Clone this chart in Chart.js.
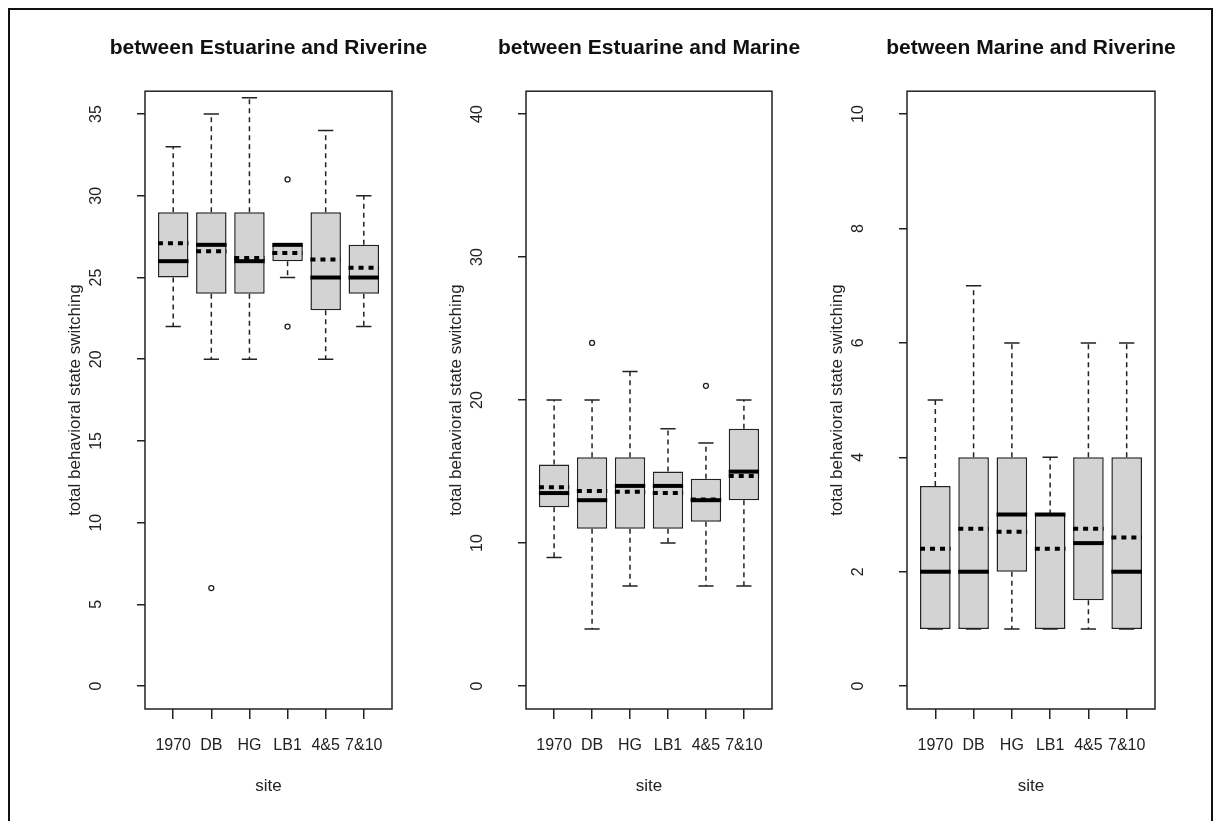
<!DOCTYPE html>
<html>
<head>
<meta charset="utf-8">
<script src="https://cdn.jsdelivr.net/npm/chart.js@4.4.1/dist/chart.umd.min.js"></script>
<style>
  html, body { margin: 0; padding: 0; background: #fff; width: 1221px; height: 821px; overflow: hidden; }
  .frame { position: absolute; left: 8px; top: 8px; width: 1205px; height: 830px; border: 2px solid #111; box-sizing: border-box; }
  canvas { position: absolute; top: 0; }
</style>
</head>
<body>
<div class="frame"></div>
<canvas id="p1"></canvas>
<canvas id="p2"></canvas>
<canvas id="p3"></canvas>
<script>
// Sites shared by all three panels
const categories = ['1970', 'DB', 'HG', 'LB1', '4&5', '7&10'];

// Switching between estuarine and riverine
const erLower  = [22, 20, 20, 25, 20, 22];
const erQ1     = [25, 24, 24, 26, 23, 24];
const erMedian = [26, 27, 26, 27, 25, 25];
const erQ3     = [29, 29, 29, 27, 29, 27];
const erUpper  = [33, 35, 36, 27, 34, 30];
const erMean   = [27.1, 26.6, 26.2, 26.5, 26.1, 25.6];
const erOutSite  = ['DB', 'LB1', 'LB1'];
const erOutValue = [6, 31, 22];
const erTicks  = [0, 5, 10, 15, 20, 25, 30, 35];

// Switching between estuarine and marine
const emLower  = [9, 4, 7, 10, 7, 7];
const emQ1     = [12.5, 11, 11, 11, 11.5, 13];
const emMedian = [13.5, 13, 14, 14, 13, 15];
const emQ3     = [15.5, 16, 16, 15, 14.5, 18];
const emUpper  = [20, 20, 22, 18, 17, 20];
const emMean   = [13.9, 13.65, 13.6, 13.5, 13.05, 14.7];
const emOutSite  = ['DB', '4&5'];
const emOutValue = [24, 21];
const emTicks  = [0, 10, 20, 30, 40];

// Switching between marine and riverine
const mrLower  = [1, 1, 1, 1, 1, 1];
const mrQ1     = [1, 1, 2, 1, 1.5, 1];
const mrMedian = [2, 2, 3, 3, 2.5, 2];
const mrQ3     = [3.5, 4, 4, 3, 4, 4];
const mrUpper  = [5, 7, 6, 4, 6, 6];
const mrMean   = [2.4, 2.75, 2.7, 2.4, 2.75, 2.6];
const mrOutSite  = [];
const mrOutValue = [];
const mrTicks  = [0, 2, 4, 6, 8, 10];

const INK = '#222';
const SANS = '"Liberation Sans", Arial, sans-serif';

// Whiskers, staples, medians and means on top of the floating bars
const boxExtras = {
  id: 'boxExtras',
  afterDatasetsDraw(chart, args, opts) {
    const ctx = chart.ctx, xs = chart.scales.x, ys = chart.scales.y;
    const meta = chart.getDatasetMeta(0);
    ctx.save();
    opts.median.forEach((m, i) => {
      const bar = meta.data[i];
      const cx = xs.getPixelForValue(i + 1);
      const half = bar.width / 2;
      const yQ1 = ys.getPixelForValue(opts.q1[i]);
      const yQ3 = ys.getPixelForValue(opts.q3[i]);
      const yLo = ys.getPixelForValue(opts.lower[i]);
      const yHi = ys.getPixelForValue(opts.upper[i]);
      ctx.strokeStyle = INK;
      ctx.lineWidth = 1.5;
      ctx.lineCap = 'butt';
      // dashed whiskers
      ctx.setLineDash([5, 4]);
      ctx.beginPath();
      if (opts.upper[i] > opts.q3[i]) { ctx.moveTo(cx, yQ3); ctx.lineTo(cx, yHi); }
      if (opts.lower[i] < opts.q1[i]) { ctx.moveTo(cx, yQ1); ctx.lineTo(cx, yLo); }
      ctx.stroke();
      // staples
      ctx.setLineDash([]);
      ctx.beginPath();
      ctx.moveTo(cx - half / 2, yHi); ctx.lineTo(cx + half / 2, yHi);
      ctx.moveTo(cx - half / 2, yLo); ctx.lineTo(cx + half / 2, yLo);
      ctx.stroke();
      // median
      const yMed = ys.getPixelForValue(m);
      ctx.strokeStyle = '#000';
      ctx.lineWidth = 4;
      ctx.beginPath();
      ctx.moveTo(cx - half, yMed); ctx.lineTo(cx + half, yMed);
      ctx.stroke();
      // mean, dotted
      const yMean = ys.getPixelForValue(opts.mean[i]);
      ctx.setLineDash([5, 5]);
      ctx.beginPath();
      ctx.moveTo(cx - half, yMean); ctx.lineTo(cx + half, yMean);
      ctx.stroke();
      ctx.setLineDash([]);
    });
    ctx.restore();
  },
  afterDraw(chart, args, opts) {
    const ctx = chart.ctx, ys = chart.scales.y, a = chart.chartArea;
    ctx.save();
    // plot frame
    ctx.strokeStyle = INK;
    ctx.lineWidth = 1.5;
    ctx.strokeRect(a.left, a.top, a.right - a.left, a.bottom - a.top);
    // y tick labels, parallel to the axis
    ctx.fillStyle = INK;
    ctx.font = '16px ' + SANS;
    ctx.textAlign = 'center';
    ctx.textBaseline = 'middle';
    opts.ticks.forEach(v => {
      const y = ys.getPixelForValue(v);
      ctx.save();
      ctx.translate(a.left - 48, y);
      ctx.rotate(-Math.PI / 2);
      ctx.fillText(String(v), 0, 0);
      ctx.restore();
    });
    ctx.restore();
  }
};

function makePanel(id, plotLeft, plotRight, title, d) {
  const canvas = document.getElementById(id);
  const margin = 100;
  canvas.width = plotRight - plotLeft + 2 * margin;
  canvas.height = 821;
  canvas.style.left = (plotLeft - margin) + 'px';

  const span = d.ticks[d.ticks.length - 1] - d.ticks[0];
  const yMin = d.ticks[0] - span * 0.04;
  const yMax = d.ticks[d.ticks.length - 1] + span * 0.04;

  new Chart(canvas, {
    type: 'bar',
    data: {
      datasets: [
        {
          type: 'bar',
          data: categories.map((c, i) => ({ x: i + 1, y: [d.q1[i], d.q3[i]] })),
          backgroundColor: '#d3d3d3',
          borderColor: INK,
          borderWidth: 1.5,
          borderSkipped: false,
          barPercentage: 0.8,
          categoryPercentage: 1.0
        },
        {
          type: 'scatter',
          data: d.outSite.map((s, k) => ({ x: categories.indexOf(s) + 1, y: d.outValue[k] })),
          pointStyle: 'circle',
          pointRadius: 2.5,
          pointBorderWidth: 1.3,
          pointBorderColor: INK,
          pointBackgroundColor: '#fff'
        }
      ]
    },
    options: {
      responsive: false,
      animation: false,
      events: [],
      layout: { padding: 0 },
      plugins: {
        legend: { display: false },
        tooltip: { enabled: false },
        title: {
          display: true,
          text: title,
          color: '#111',
          font: { family: SANS, size: 21, weight: 'bold', lineHeight: 1.2 },
          padding: { top: 36, bottom: 30 }
        },
        boxExtras: d
      },
      scales: {
        x: {
          type: 'linear',
          offset: false,
          min: 0.26,
          max: 6.74,
          afterBuildTicks: s => { s.ticks = categories.map((c, i) => ({ value: i + 1 })); },
          afterFit: s => { s.height = 112; },
          ticks: {
            autoSkip: false,
            maxRotation: 0,
            minRotation: 0,
            padding: 17,
            color: '#222',
            font: { family: SANS, size: 16, lineHeight: 1.2 },
            callback: v => categories[v - 1]
          },
          grid: { offset: false, drawOnChartArea: false, drawTicks: true, tickLength: 10, color: INK, lineWidth: 1.5 },
          border: { display: false },
          title: {
            display: true,
            text: 'site',
            color: '#222',
            font: { family: SANS, size: 17, lineHeight: 1.2 },
            padding: { top: 0, bottom: 24 }
          }
        },
        y: {
          type: 'linear',
          position: 'left',
          min: yMin,
          max: yMax,
          afterBuildTicks: s => { s.ticks = d.ticks.map(v => ({ value: v })); },
          afterFit: s => { s.width = margin; },
          ticks: { display: false },
          grid: { drawOnChartArea: false, drawTicks: true, tickLength: 8, color: INK, lineWidth: 1.5 },
          border: { display: false },
          title: {
            display: true,
            text: 'total behavioral state switching',
            color: '#222',
            font: { family: SANS, size: 17, lineHeight: 1.2 },
            padding: { top: 20, bottom: 0 }
          }
        },
        // empty right-hand scale that mirrors the left margin so the title sits over the plot
        yRight: {
          type: 'linear',
          position: 'right',
          min: yMin,
          max: yMax,
          afterFit: s => { s.width = margin; },
          ticks: { display: false },
          grid: { display: false },
          border: { display: false }
        }
      }
    },
    plugins: [boxExtras]
  });
}

makePanel('p1', 145, 392, 'between Estuarine and Riverine', {
  lower: erLower, q1: erQ1, median: erMedian, q3: erQ3, upper: erUpper, mean: erMean,
  outSite: erOutSite, outValue: erOutValue, ticks: erTicks
});
makePanel('p2', 526, 772, 'between Estuarine and Marine', {
  lower: emLower, q1: emQ1, median: emMedian, q3: emQ3, upper: emUpper, mean: emMean,
  outSite: emOutSite, outValue: emOutValue, ticks: emTicks
});
makePanel('p3', 907, 1155, 'between Marine and Riverine', {
  lower: mrLower, q1: mrQ1, median: mrMedian, q3: mrQ3, upper: mrUpper, mean: mrMean,
  outSite: mrOutSite, outValue: mrOutValue, ticks: mrTicks
});
</script>
</body>
</html>
